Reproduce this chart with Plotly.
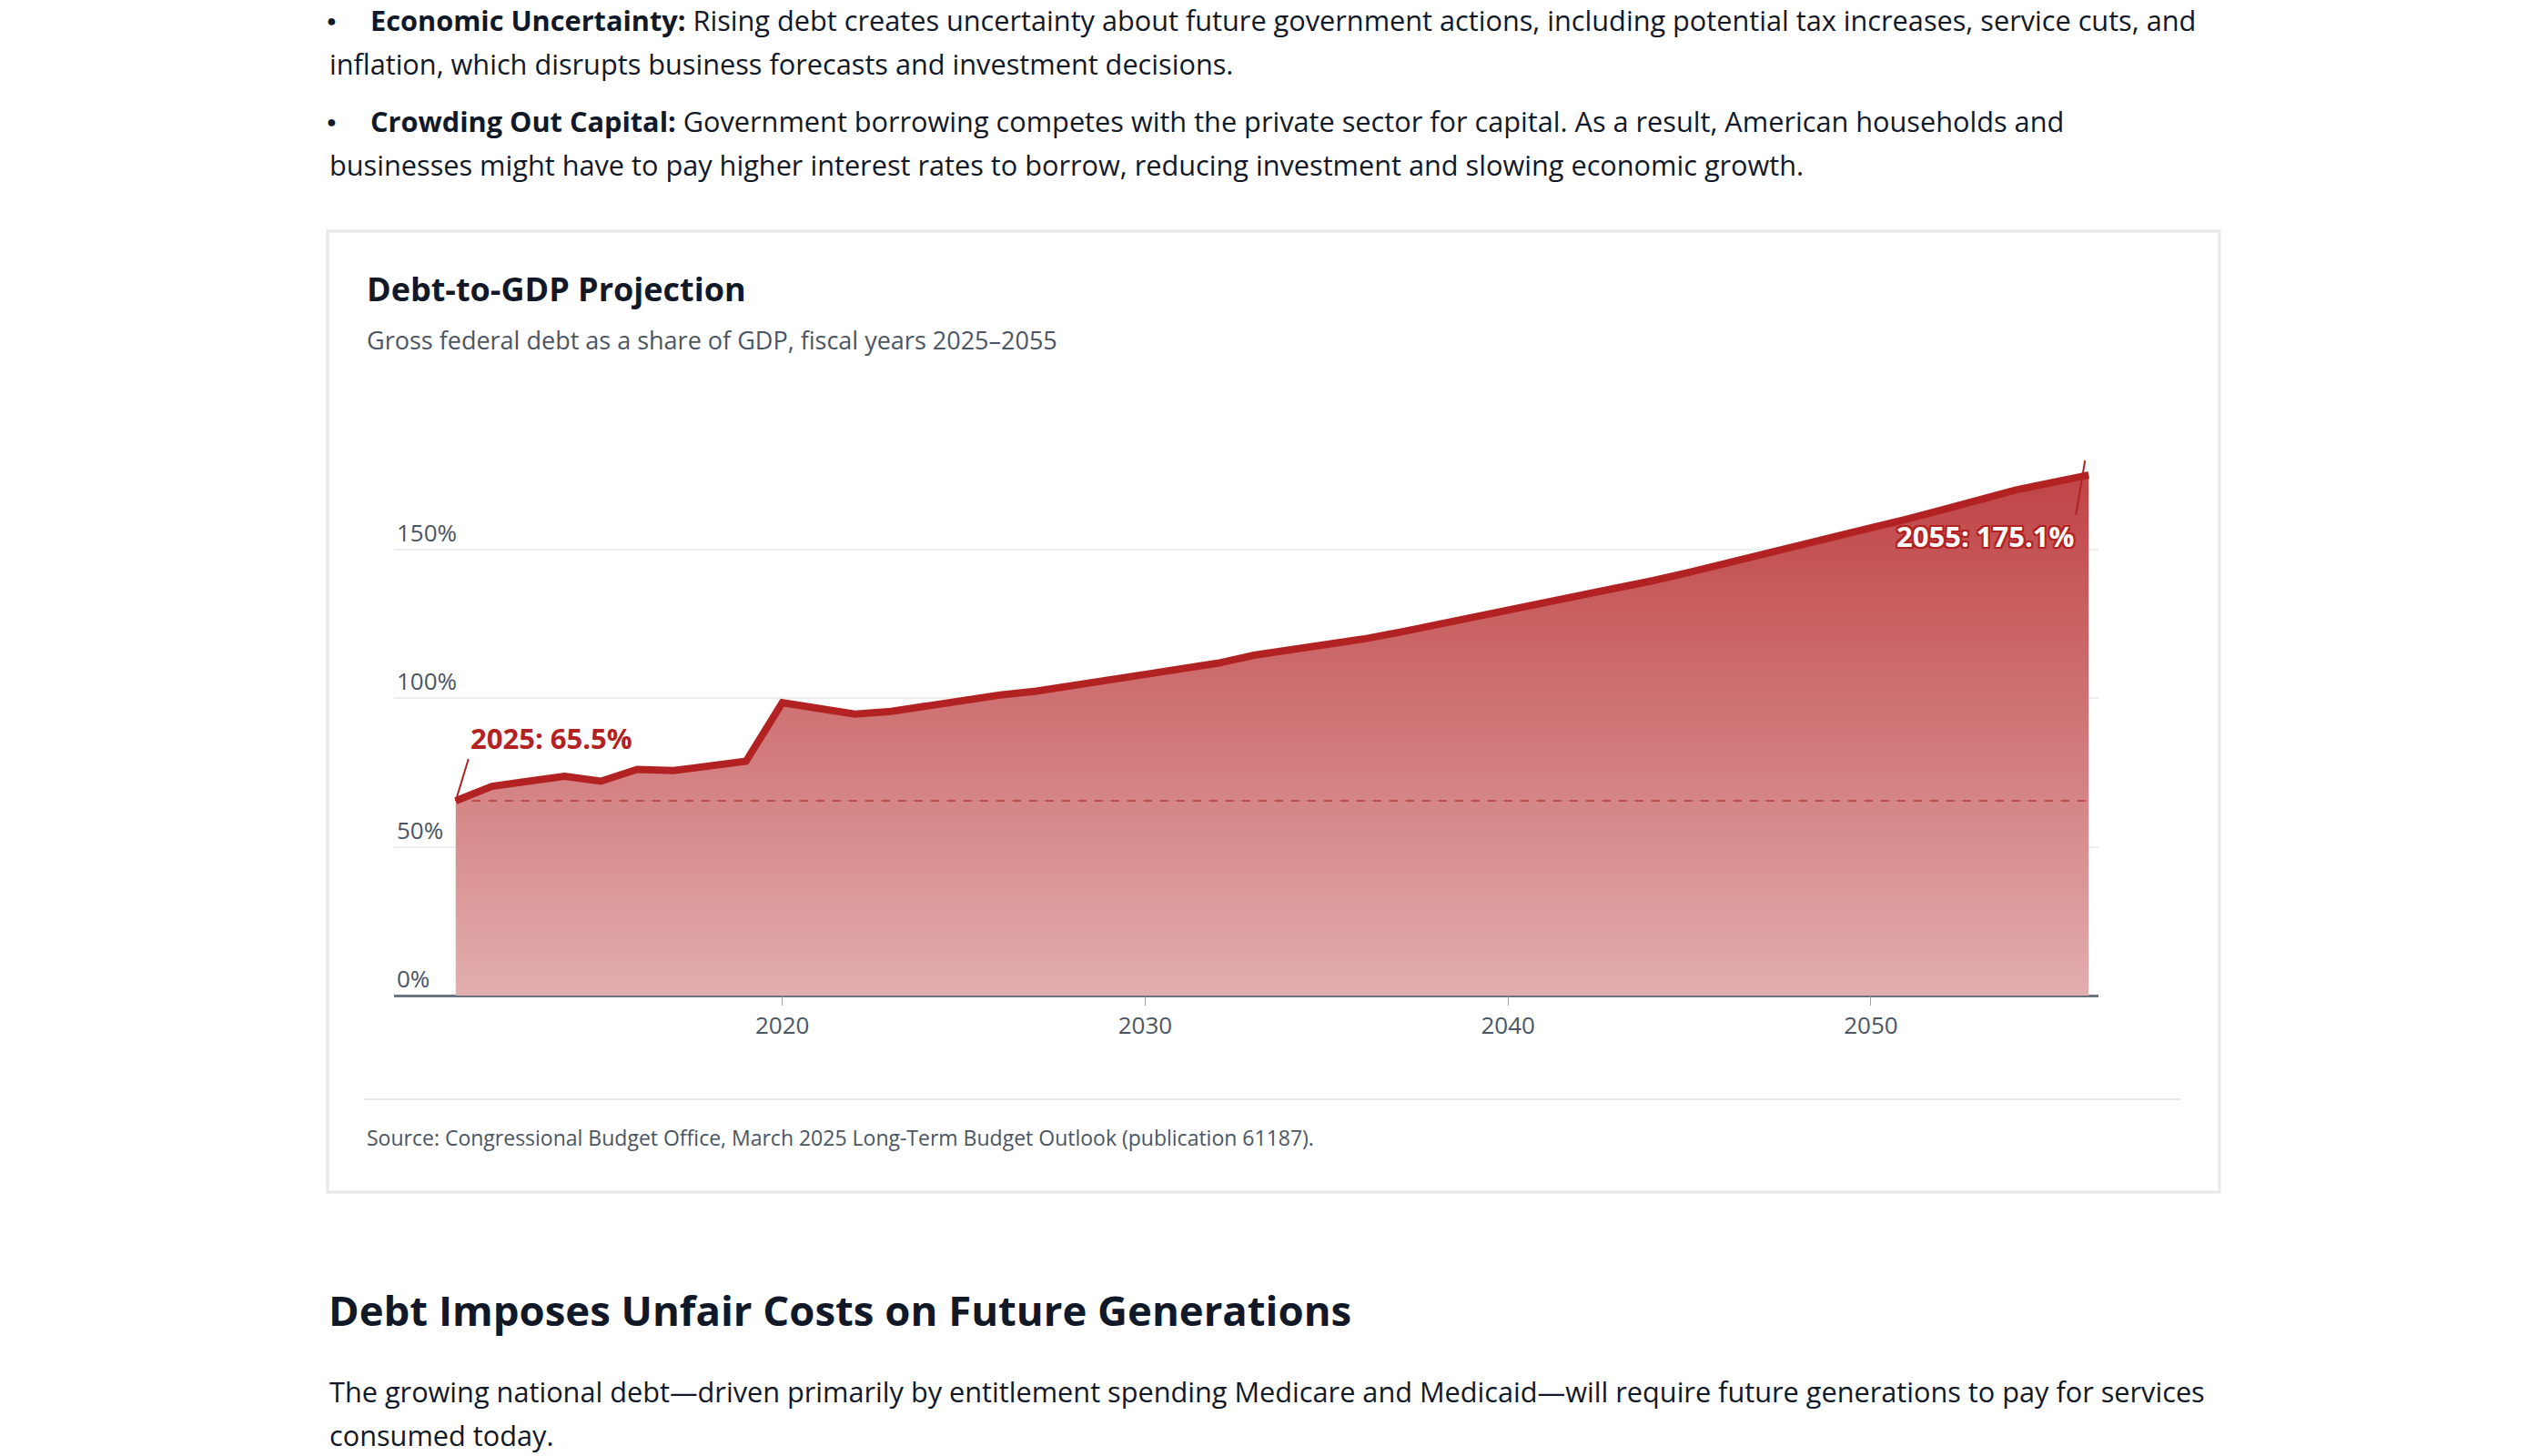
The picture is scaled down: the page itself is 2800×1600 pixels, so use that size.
import plotly.graph_objects as go

# DATA
years = list(range(2011, 2057))
debt_pct = [
    65.5, 70.4, 72.1, 73.8, 72.1, 76.1, 75.7, 77.3, 78.8, 98.5,
    96.7, 94.7, 95.6, 97.5, 99.7, 101.1, 102.4, 104.4, 106.0, 108.0,
    109.8, 111.8, 114.5, 116.2, 117.9, 119.9, 122.2, 124.6, 127.0, 129.5,
    131.9, 134.4, 136.9, 139.6, 142.4, 145.3, 148.2, 151.1, 154.1, 157.1,
    160.3, 163.5, 166.8, 170.1, 172.6, 175.1,
]
y_ticks = [0, 50, 100, 150]
y_tick_labels = ["0%", "50%", "100%", "150%"]
x_ticks = [2020, 2030, 2040, 2050]

COLORS = {
    "line": "#b22222",
    "fill_top": "rgba(190,64,66,0.98)",
    "fill_bottom": "rgba(226,174,174,1)",
    "text": "#111827",
    "sub": "#4b5563",
    "grid": "#eeeeee",
    "axis": "#6b7280",
    "border": "#e5e7eb",
}
FONT = "Open Sans, Noto Sans, sans-serif"

W, H = 2800, 1600
OFF = 9  # page body margin


def px(x):
    return (x - OFF) / W


def py(y):
    return 1 - (y - OFF) / H


fig = go.Figure()

fig.add_trace(go.Scatter(
    x=years,
    y=debt_pct,
    mode="lines",
    line=dict(color=COLORS["line"], width=8),
    fill="tozeroy",
    fillgradient=dict(
        type="vertical",
        colorscale=[[0, COLORS["fill_bottom"]], [1, COLORS["fill_top"]]],
    ),
    hoverinfo="skip",
    showlegend=False,
))

# Reference line at the starting value
fig.add_trace(go.Scatter(
    x=[years[0], years[-1]],
    y=[debt_pct[0], debt_pct[0]],
    mode="lines",
    line=dict(color="rgba(178,34,34,0.6)", width=2, dash="dash"),
    hoverinfo="skip",
    showlegend=False,
))

fig.update_layout(
    width=W,
    height=H,
    margin=dict(l=0, r=0, t=0, b=0),
    paper_bgcolor="white",
    plot_bgcolor="white",
    font=dict(family=FONT, color=COLORS["text"]),
    xaxis=dict(
        domain=[px(434), px(2307)],
        range=[2009.3, 2056.27],
        tickvals=x_ticks,
        ticks="outside",
        ticklen=10,
        tickcolor="#9ca3af",
        tickfont=dict(size=26, color=COLORS["sub"]),
        showgrid=False,
        zeroline=False,
        showline=False,
    ),
    yaxis=dict(
        domain=[py(1095), py(507)],
        range=[0, 180],
        tickvals=y_ticks,
        ticktext=y_tick_labels,
        ticklabelposition="inside top",
        tickfont=dict(size=26, color=COLORS["sub"]),
        gridcolor=COLORS["grid"],
        gridwidth=2,
        zeroline=True,
        zerolinecolor=COLORS["axis"],
        zerolinewidth=3,
        showline=False,
    ),
)

shapes = [
    # card border
    dict(type="rect", xref="paper", yref="paper",
         x0=px(361), x1=px(2440), y0=py(255), y1=py(1311),
         line=dict(color=COLORS["border"], width=3), layer="below"),
    # separator above source
    dict(type="line", xref="paper", yref="paper",
         x0=px(402), x1=px(2397), y0=py(1209), y1=py(1209),
         line=dict(color=COLORS["border"], width=2)),
]
fig.update_layout(shapes=shapes)

annotations = []


def text(x, y, s, size, color=COLORS["text"], **kw):
    annotations.append(dict(
        xref="paper", yref="paper", x=px(x), y=py(y), text=s,
        showarrow=False, xanchor="left", yanchor="middle",
        font=dict(size=size, color=color, family=FONT), **kw))


# surrounding article text
text(358, 23, "●", 18)
text(406, 23, "<b>Economic Uncertainty:</b> Rising debt creates uncertainty about future government actions, "
     "including potential tax increases, service cuts, and", 30.7)
text(361, 71, "inflation, which disrupts business forecasts and investment decisions.", 30.7)
text(358, 134, "●", 18)
text(406, 134, "<b>Crowding Out Capital:</b> Government borrowing competes with the private sector for capital. "
     "As a result, American households and", 30.7)
text(361, 182, "businesses might have to pay higher interest rates to borrow, reducing investment and "
     "slowing economic growth.", 30.7)

# card texts
text(402, 318, "<b>Debt-to-GDP Projection</b>", 36)
text(402, 374, "Gross federal debt as a share of GDP, fiscal years 2025–2055", 27, COLORS["sub"])
text(402, 1251, "Source: Congressional Budget Office, March 2025 Long-Term Budget Outlook (publication 61187).",
     23, COLORS["sub"])

# below the card
text(360, 1440, "<b>Debt Imposes Unfair Costs on Future Generations</b>", 45.5)
text(361, 1530, "The growing national debt—driven primarily by entitlement spending Medicare and Medicaid—will "
     "require future generations to pay for services", 30.7)
text(361, 1578, "consumed today.", 30.7)

# point callouts
annotations.append(dict(
    x=years[0], y=debt_pct[0], xref="x", yref="y",
    text="<b>2025: 65.5%</b>", showarrow=True, arrowhead=0,
    arrowcolor=COLORS["line"], arrowwidth=2, ax=14, ay=-46,
    xanchor="left", yanchor="bottom",
    font=dict(size=31, color=COLORS["line"], family=FONT),
))
# white label with a red outline: red copies offset underneath
for dx, dy in [(2, 0), (-2, 0), (0, 2), (0, -2), (2, 2), (-2, -2), (2, -2), (-2, 2)]:
    annotations.append(dict(
        x=years[-1], y=debt_pct[-1], xref="x", yref="y",
        text="<b>2055: 175.1%</b>", showarrow=False,
        xanchor="right", yanchor="top", xshift=-14 + dx, yshift=-44 + dy,
        font=dict(size=31, color=COLORS["line"], family=FONT),
    ))
annotations.append(dict(
    x=years[-1], y=debt_pct[-1], xref="x", yref="y",
    text="<b>2055: 175.1%</b>", showarrow=True, arrowhead=0,
    arrowcolor=COLORS["line"], arrowwidth=2, ax=-10, ay=60,
    xanchor="right", yanchor="top", xshift=-4, yshift=16,
    font=dict(size=31, color="white", family=FONT),
))

fig.update_layout(annotations=annotations)

fig.write_html("out.html")
